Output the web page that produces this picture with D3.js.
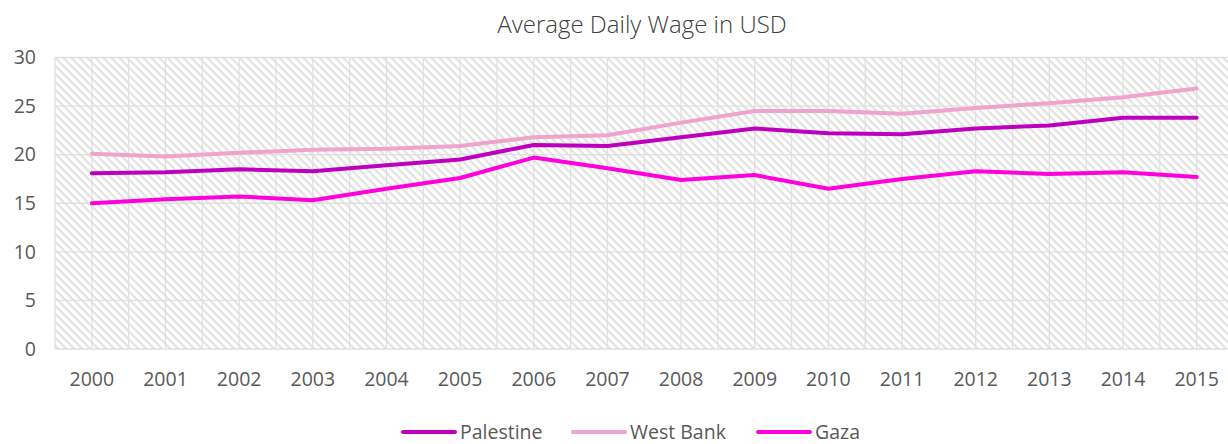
<!DOCTYPE html>
<html>
<head>
<meta charset="utf-8">
<script src="https://cdn.jsdelivr.net/npm/d3@7"></script>
<style>
  body { margin: 0; background: #fff; }
  text { font-family: "Open Sans", "Noto Sans", sans-serif; }
</style>
</head>
<body>
<div id="chart"></div>
<script>
const years = ['2000','2001','2002','2003','2004','2005','2006','2007','2008','2009','2010','2011','2012','2013','2014','2015']
const palestine = [18.1, 18.2, 18.5, 18.3, 18.9, 19.5, 21.0, 20.9, 21.8, 22.7, 22.2, 22.1, 22.7, 23.0, 23.8, 23.8]
const westBank  = [20.1, 19.8, 20.2, 20.5, 20.6, 20.9, 21.8, 22.0, 23.3, 24.5, 24.5, 24.2, 24.8, 25.3, 25.9, 26.8]
const gaza      = [15.0, 15.4, 15.7, 15.3, 16.5, 17.6, 19.7, 18.6, 17.4, 17.9, 16.5, 17.5, 18.3, 18.0, 18.2, 17.7]
const yTicks = [0, 5, 10, 15, 20, 25, 30]

const series = [
  { name: 'Palestine', values: palestine, color: '#BE00BE' },
  { name: 'West Bank', values: westBank, color: '#F0A3CD' },
  { name: 'Gaza', values: gaza, color: '#FF00DC' }
]

const dimensions = ({
  width: 1228,
  height: 444,
  margin: { top: 57.5, right: -5.5, bottom: 95, left: 55 }
})
const innerW = dimensions.width - dimensions.margin.left - dimensions.margin.right
const innerH = dimensions.height - dimensions.margin.top - dimensions.margin.bottom

const svg = d3.select('#chart').append('svg')
    .attr('width', dimensions.width)
    .attr('height', dimensions.height)

// hatch pattern like excel "wide downward diagonal"
const defs = svg.append('defs')
const pat = defs.append('pattern')
    .attr('id', 'hatch')
    .attr('patternUnits', 'userSpaceOnUse')
    .attr('width', 8)
    .attr('height', 8)
pat.append('rect').attr('width', 8).attr('height', 8).attr('fill', '#fff')
pat.append('path')
    .attr('d', 'M-2,-2 L10,10 M-2,6 L2,10 M6,-2 L10,2')
    .attr('stroke', '#dcdcdc')
    .attr('stroke-width', 1.6)

const g = svg.append('g')
    .attr('transform', 'translate(' + dimensions.margin.left + ',' + dimensions.margin.top + ')')

const x = d3.scaleBand()
    .domain(years)
    .range([0, innerW])

const y = d3.scaleLinear()
    .domain([0, 30])
    .range([innerH, 0])

g.append('rect')
    .attr('width', innerW)
    .attr('height', innerH)
    .attr('fill', 'url(#hatch)')

// gridlines: horizontal every 5, vertical every half category
g.append('g').selectAll('line')
  .data(yTicks)
  .enter().append('line')
    .attr('x1', 0).attr('x2', innerW)
    .attr('y1', d => y(d)).attr('y2', d => y(d))
    .attr('stroke', '#e0e0e0')
    .attr('stroke-width', 1.3)

const vlines = []
years.forEach(yr => { vlines.push(x(yr)); vlines.push(x(yr) + x.bandwidth() / 2) })
g.append('g').selectAll('line')
  .data(vlines)
  .enter().append('line')
    .attr('x1', d => d).attr('x2', d => d)
    .attr('y1', 0).attr('y2', innerH)
    .attr('stroke', '#e0e0e0')
    .attr('stroke-width', 1.3)

// axes
const yAxis = g.append('g')
    .call(d3.axisLeft(y).tickValues(yTicks).tickSize(0).tickPadding(19))
yAxis.select('.domain').remove()
yAxis.selectAll('text')
    .style('font-size', '19.5px')
    .attr('fill', '#595959')

const xAxis = g.append('g')
    .attr('transform', 'translate(0,' + innerH + ')')
    .call(d3.axisBottom(x).tickSize(0).tickPadding(23))
xAxis.select('.domain').remove()
xAxis.selectAll('text')
    .style('font-size', '19.5px')
    .attr('fill', '#595959')

// lines
const line = d3.line()
    .x((d, i) => x(years[i]) + x.bandwidth() / 2)
    .y(d => y(d))

g.append('g').selectAll('path')
  .data(series)
  .enter().append('path')
    .attr('d', d => line(d.values))
    .attr('fill', 'none')
    .attr('stroke', d => d.color)
    .attr('stroke-width', 4)
    .attr('stroke-linecap', 'round')
    .attr('stroke-linejoin', 'round')

// title
svg.append('text')
    .attr('x', 642)
    .attr('y', 33)
    .attr('text-anchor', 'middle')
    .style('font-size', '24px')
    .style('font-weight', 300)
    .attr('fill', '#404040')
    .text('Average Daily Wage in USD')

// legend
const legendX = [403, 573, 758]
const legend = svg.append('g')
legend.selectAll('line')
  .data(series)
  .enter().append('line')
    .attr('x1', (d, i) => legendX[i])
    .attr('x2', (d, i) => legendX[i] + 52)
    .attr('y1', 432).attr('y2', 432)
    .attr('stroke', d => d.color)
    .attr('stroke-width', 4)
    .attr('stroke-linecap', 'round')
legend.selectAll('text')
  .data(series)
  .enter().append('text')
    .attr('x', (d, i) => legendX[i] + 57)
    .attr('y', 439)
    .style('font-size', '19.5px')
    .attr('fill', '#595959')
    .text(d => d.name)
</script>
</body>
</html>
